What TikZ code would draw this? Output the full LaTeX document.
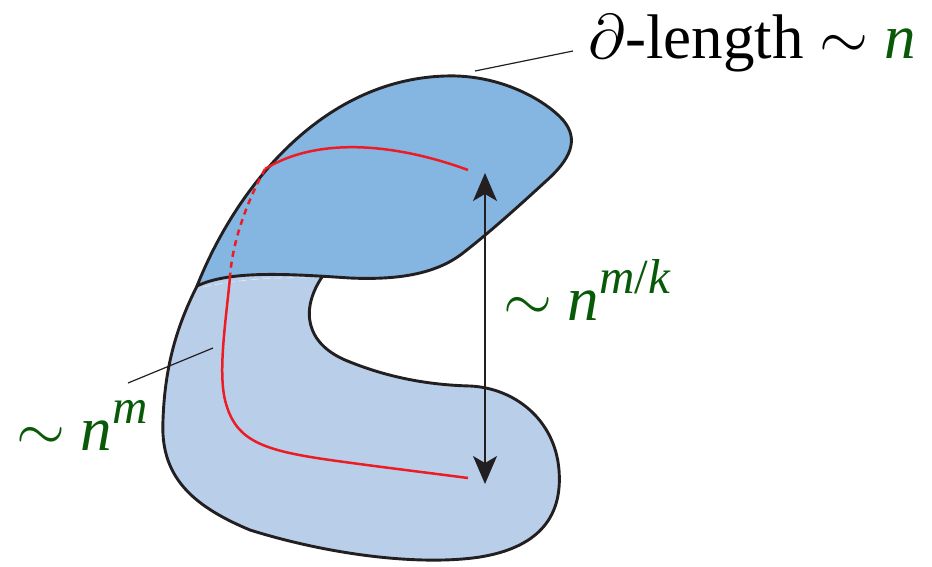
\documentclass[tikz,border=0pt]{standalone}
\usepackage{fontspec}
\setmainfont{Liberation Serif}
\DeclareFontShape{OMS}{cmsy}{m}{n}{<->cmsy10}{}
\DeclareFontShape{OML}{cmm}{m}{it}{<->cmmi10}{}
\usetikzlibrary{arrows.meta}
\definecolor{topblue}{RGB}{133,181,225}
\definecolor{lowblue}{RGB}{185,206,233}
\definecolor{dgreen}{RGB}{8,90,8}
\definecolor{redline}{RGB}{237,28,36}
\definecolor{outl}{RGB}{35,31,32}
\tikzset{
  outline/.style={draw=outl, line width=2.9pt, line join=round, line cap=round},
  curvered/.style={draw=redline, line width=2.5pt},
  leader/.style={draw=outl, line width=1.2pt},
  lbl/.style={inner sep=0pt, anchor=base west, font=\fontsize{63}{72}\selectfont},
}
\newcommand{\supx}[1]{\raisebox{27pt}{\fontsize{49}{56}\selectfont #1}}
\begin{document}
\begin{tikzpicture}[x=1pt,y=-1pt]
\useasboundingbox (0,0) rectangle (932,566);
% lower piece
\fill[lowblue] (322,277) .. controls (300,310) and (305,345) .. (350,362)
  .. controls (390,378) and (430,385) .. (470,386)
  .. controls (515,388) and (555,420) .. (559,470)
  .. controls (563,520) and (535,548) .. (480,557)
  .. controls (420,566) and (330,555) .. (250,530)
  .. controls (190,505) and (160,475) .. (163,420)
  .. controls (165,360) and (180,320) .. (197,286)
  -- (205,265) -- (322,262) -- cycle;
\draw[outline] (322,277) .. controls (300,310) and (305,345) .. (350,362)
  .. controls (390,378) and (430,385) .. (470,386)
  .. controls (515,388) and (555,420) .. (559,470)
  .. controls (563,520) and (535,548) .. (480,557)
  .. controls (420,566) and (330,555) .. (250,530)
  .. controls (190,505) and (160,475) .. (163,420)
  .. controls (165,360) and (180,320) .. (197,286);
% upper piece
\path[fill=topblue, outline] (197,286) .. controls (235,190) and (320,80) .. (445,76)
  .. controls (500,74) and (545,100) .. (563,120)
  .. controls (580,140) and (570,160) .. (545,182)
  .. controls (520,205) and (490,232) .. (463,253)
  .. controls (435,275) and (395,280) .. (350,278)
  .. controls (290,274) and (230,270) .. cycle;
% hidden edge
\draw[white, opacity=0.6, line width=0.6pt, dash pattern=on 8pt off 4pt] (203,287) .. controls (240,279) and (280,277) .. (307,278);
% red curves
\coordinate (r1) at (265,169);
\coordinate (r2) at (230,277);
\coordinate (r3) at (468,170);
\coordinate (r4) at (468,478);
\draw[curvered] (r1) .. controls (320,135) and (400,145) .. (r3);
\draw[curvered, dash pattern=on 6pt off 5pt] (r1) .. controls (245,205) and (232,245) .. (r2);
\draw[curvered] (r2) .. controls (226,320) and (218,370) .. (225,400)
  .. controls (235,440) and (260,450) .. (330,460)
  .. controls (380,467) and (430,473) .. (r4);
% arrow
\coordinate (atop) at (485,173);
\coordinate (abot) at (485,484);
\draw[outl, line width=1.4pt, {Stealth[length=28pt, width=24pt, inset=7pt]}-{Stealth[length=28pt, width=24pt, inset=7pt]}] (atop) -- (abot);
% labels
\node[lbl] (dlen) at (588,58) {$\partial$-length $\sim$ \textcolor{dgreen}{\textit{n}}};
\node[lbl, text=dgreen] (nmk) at (503,320) {$\sim$ \textit{n}\supx{\textit{m}/\textit{k}}};
\node[lbl, text=dgreen] (nm) at (16,450) {$\sim$ \textit{n}\supx{\textit{m}}};
% leaders
\coordinate (l1a) at (475,71);
\coordinate (l1b) at (573,51);
\draw[leader] (l1a) -- (l1b);
\coordinate (l2a) at (128,383);
\coordinate (l2b) at (213,348);
\draw[leader] (l2a) -- (l2b);
\end{tikzpicture}
\end{document}
